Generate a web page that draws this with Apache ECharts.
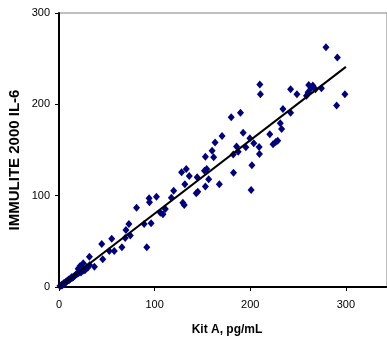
<!DOCTYPE html>
<html>
<head>
<meta charset="utf-8">
<script src="https://cdn.jsdelivr.net/npm/echarts@6/dist/echarts.min.js"></script>
<style>html,body{margin:0;padding:0;background:#fff;}#c{width:387px;height:345px;}</style>
</head>
<body>
<div id="c"></div>
<script>
var xTicks = [0, 100, 200, 300];
var yTicks = [0, 100, 200, 300];
var xTitle = 'Kit A, pg/mL';
var yTitle = 'IMMULITE 2000 IL-6';

var kitA = [
  1, 2, 2.5, 3, 3.5, 4, 5, 5.5, 6, 7, 7.5, 8, 9, 10, 10.5, 11, 12, 13, 13.5, 14,
  15, 16, 17, 18, 19, 20, 21, 22, 23, 24, 25, 26, 28, 29, 30, 32, 20, 22,
  25.3, 27.3, 31.8, 37.0, 45.7, 52.6, 57.8,
  44.7, 55.1, 65.8, 69.2, 70.0, 73.1, 74.6, 81.1, 89.0, 91.8, 94.2, 94.6, 96.3,
  101.9, 106.0, 108.7, 111.2, 117.5, 119.9, 128.2, 133.1, 129.5, 131.0, 131.6,
  136.2, 143.5, 145.1, 144.5, 152.1, 154.5, 153.1, 153.1, 156.5, 160.1, 161.7,
  163.2, 167.7, 170.5, 182.5, 182.2, 185.7, 187.4, 210.0, 210.6, 180.1, 189.8,
  192.6, 199.6, 203.7, 195.4, 209.3, 209.6, 220.4, 223.8, 226.6, 228.7, 231.4,
  232.8, 234.2, 201.7, 200.9, 279.2, 291.1, 299.0, 290.3, 242.2, 248.8, 261.2,
  265.4, 263.6, 258.8, 260.5, 268.2, 274.4, 242.2
];
var immulite = [
  1, 1.5, 2, 2.5, 2, 3, 4, 4.5, 4, 5, 6, 6, 7, 7.5, 8.5, 8, 9, 10, 11, 10,
  11, 12, 13, 14, 14.5, 15, 16, 17, 16, 18, 19, 18, 20, 22, 21, 24, 20, 23,
  26.0, 18.6, 33.2, 22.2, 30.3, 39.4, 39.4,
  47.1, 52.9, 43.5, 53.7, 62.4, 69.0, 56.4, 86.9, 69.0, 43.5, 97.2, 92.8, 69.8,
  98.9, 81.4, 79.6, 85.4, 97.8, 105.5, 125.6, 129.2, 92.3, 89.8, 112.5,
  121.6, 102.6, 104.4, 120.2, 127.4, 129.2, 142.7, 109.9, 118.0, 149.3, 142.1,
  158.1, 112.5, 165.2, 125.2, 145.1, 153.7, 148.2, 221.6, 211.1, 185.9, 190.9,
  169.0, 162.9, 157.4, 153.0, 153.3, 145.7, 167.3, 156.3, 158.8, 160.2, 179.3,
  173.1, 195.0, 133.3, 106.2, 262.5, 251.2, 211.1, 198.6, 216.5, 211.1, 221.2,
  220.5, 217.6, 209.5, 213.3, 216.5, 217.6, 190.9
];
var fitX = [0, 300];
var fitY = [0, 241];

var pts = kitA.map(function (v, i) { return [v, immulite[i]]; });
var fit = fitX.map(function (v, i) { return [v, fitY[i]]; });

var chart = echarts.init(document.getElementById('c'), null, {renderer: 'canvas'});
var lblFont = {fontFamily: 'Liberation Sans, Arial, sans-serif', fontSize: 11, color: '#000'};
chart.setOption({
  animation: false,
  backgroundColor: '#fff',
  grid: {left: 59, top: 13, right: -2, bottom: 58, show: true, borderColor: '#808080', borderWidth: 1, backgroundColor: 'transparent'},
  xAxis: {
    type: 'value', min: xTicks[0], max: 343, interval: 100,
    axisLine: {show: true, onZero: false, lineStyle: {color: '#000', width: 2}},
    axisTick: {show: true, inside: false, length: 4, lineStyle: {color: '#000', width: 1}},
    axisLabel: Object.assign({margin: 12, showMaxLabel: false}, lblFont),
    splitLine: {show: false}
  },
  yAxis: {
    type: 'value', min: yTicks[0], max: yTicks[yTicks.length - 1], interval: 100,
    axisLine: {show: true, onZero: false, lineStyle: {color: '#000', width: 2}},
    axisTick: {show: true, inside: false, length: 4, lineStyle: {color: '#000', width: 1}},
    axisLabel: Object.assign({margin: 9}, lblFont),
    splitLine: {show: false}
  },
  graphic: [
    {type: 'text', x: 227, y: 330, style: {text: xTitle, font: 'bold 12px "Liberation Sans", Arial, sans-serif', fill: '#000', textAlign: 'center', textVerticalAlign: 'middle'}},
    {type: 'text', x: 15, y: 160, rotation: Math.PI / 2, style: {text: yTitle, font: 'bold 15px "Liberation Sans", Arial, sans-serif', fill: '#000', textAlign: 'center', textVerticalAlign: 'middle'}}
  ],
  series: [
    {type: 'scatter', data: pts, symbol: 'diamond', symbolSize: [7, 8], itemStyle: {color: '#00007f', opacity: 1}, z: 2},
    {type: 'line', data: fit, symbol: 'none', lineStyle: {color: '#000', width: 2}, z: 3, silent: true}
  ]
});
</script>
</body>
</html>
